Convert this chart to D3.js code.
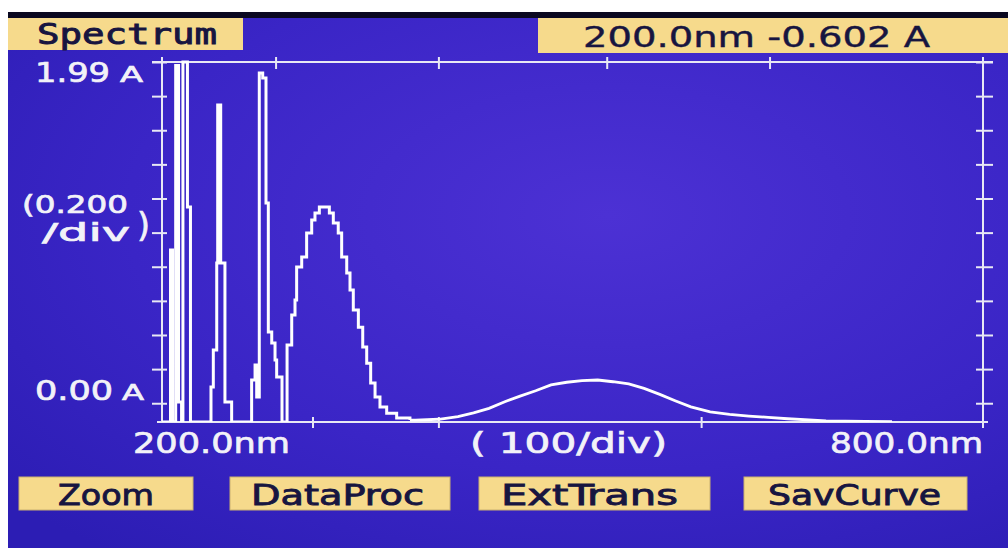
<!DOCTYPE html>
<html><head><meta charset="utf-8">
<script src="https://cdn.jsdelivr.net/npm/d3@7"></script>
<style>html,body{margin:0;padding:0;background:#fff;overflow:hidden}</style>
</head><body><svg id="c" width="1008" height="548"></svg>
<script>
// ---- data (nm, absorbance) ----
const peakWl  = [200.0, 206.2, 207.7, 210.0, 212.1, 214.3, 215.3, 218.6, 220.8,
                 235.8, 237.5, 240.0, 240.7, 242.9, 246.0, 250.9,
                 265.5, 268.0, 269.2, 271.1, 273.6, 276.0, 277.7, 280.2, 282.6, 283.8, 287.7,
                 291.4, 294.8, 297.2, 298.4, 302.1, 305.7, 309.4, 311.8, 315.0, 319.1,
                 322.3, 325.2, 328.8, 331.3, 335.0, 337.4, 339.8, 343.5, 346.7, 349.6,
                 352.5, 355.7, 359.3, 364.2, 371.5, 381.2];
const peakAbs = [-0.11, 0.898, -0.11, 1.98, 0.007, -0.11, 2.00, 1.150, -0.11,
                 0.095, 0.312, 0.822, 1.748, 0.822, 0.007, -0.11,
                 0.136, 0.224, 0.036, 1.935, 1.906, 1.173, 0.417, 0.353, 0.253, 0.154, -0.11,
                 0.341, 0.517, 0.605, 0.798, 0.857, 0.998, 1.074, 1.115, 1.150, 1.150,
                 1.115, 1.056, 0.998, 0.857, 0.763, 0.663, 0.546, 0.446, 0.329, 0.235,
                 0.118, 0.036, -0.022, -0.058, -0.087, -0.099];
const tailWl  = [381.2, 385.3, 402.3, 416.3, 427.7, 439.0, 450.5, 461.7, 473.1, 484.3,
                 495.8, 507.0, 518.4, 529.6, 541.1, 552.3, 563.8, 575.0, 586.5, 600.6,
                 614.8, 628.9, 643.0, 657.2, 685.3, 713.8, 733.5];
const tailAbs = [-0.099, -0.099, -0.094, -0.079, -0.056, -0.030, 0.009, 0.042, 0.073, 0.107,
                 0.123, 0.132, 0.136, 0.126, 0.113, 0.087, 0.052, 0.015, -0.021, -0.050,
                 -0.065, -0.075, -0.083, -0.091, -0.103, -0.106, -0.108];
const yTicks = [0, 0.2, 0.4, 0.6, 0.8, 1.0, 1.2, 1.4, 1.6, 1.8, 2.0];
const topTicks = [283, 402, 525, 644];
const bottomTicks = [310, 402, 594];
const titleText = "Spectrum";
const readoutText = "200.0nm -0.602 A";
const yLabelTop = "1.99", yLabelBottom = "0.00", yUnit = "A";
const yDiv = ["(0.200", "/div", ")"];
const xLabels = ["200.0nm", "( 100/div)", "800.0nm"];
const buttons = ["Zoom", "DataProc", "ExtTrans", "SavCurve"];

// ---- drawing ----
const svg = d3.select("#c");
const defs = svg.append("defs");
const grad = defs.append("radialGradient").attr("id", "scr")
  .attr("cx", "0.6").attr("cy", "0.38").attr("r", "0.8");
grad.append("stop").attr("offset", "0").attr("stop-color", "#4c31d4");
grad.append("stop").attr("offset", "0.6").attr("stop-color", "#3a25c6");
grad.append("stop").attr("offset", "1").attr("stop-color", "#2c1db4");

svg.append("rect").attr("width", 1008).attr("height", 548).attr("fill", "#ffffff");
svg.append("rect").attr("x", 8).attr("y", 12).attr("width", 1000).attr("height", 536).attr("fill", "url(#scr)");
svg.append("rect").attr("x", 8).attr("y", 12).attr("width", 1000).attr("height", 6).attr("fill", "#0a0820");

const x = d3.scaleLinear().domain([200, 800]).range([162, 983]);
const y = d3.scaleLinear().domain([-0.11, 2.0]).range([422, 62]);
const axisCol = "#e8e8f4";

defs.append("clipPath").attr("id", "plotclip").append("rect")
  .attr("x", x.range()[0]).attr("y", y.range()[1] - 2)
  .attr("width", x.range()[1] - x.range()[0]).attr("height", y.range()[0] - y.range()[1] + 2);

// axes
const gL = svg.append("g").attr("transform", `translate(${x.range()[0]},0)`)
  .call(d3.axisLeft(y).tickValues(yTicks).tickSize(10).tickSizeOuter(0).tickFormat(""));
gL.selectAll(".tick line").attr("x1", 5);
const gR = svg.append("g").attr("transform", `translate(${x.range()[1]},0)`)
  .call(d3.axisRight(y).tickValues(yTicks).tickSize(10).tickSizeOuter(0).tickFormat(""));
gR.selectAll(".tick line").attr("x1", -7);
const gT = svg.append("g").attr("transform", `translate(0,${y.range()[1]})`)
  .call(d3.axisTop(x).tickValues(topTicks).tickSize(5).tickSizeOuter(0).tickFormat(""));
gT.selectAll(".tick line").attr("y1", 7);
const gB = svg.append("g").attr("transform", `translate(0,${y.range()[0]})`)
  .call(d3.axisBottom(x).tickValues(bottomTicks).tickSize(6).tickSizeOuter(0).tickFormat(""));
gB.selectAll(".tick line").attr("y1", -5);
[gL, gR, gT, gB].forEach(g => {
  g.select(".domain").remove();
  g.selectAll(".tick line").attr("stroke", axisCol).attr("stroke-width", 2);
});
const frame = svg.append("g").attr("stroke", axisCol).attr("stroke-width", 2);
const [x0, x1] = x.range(), [yb, yt] = y.range();
frame.append("line").attr("x1", x0 - 10).attr("x2", x1 + 10).attr("y1", yt).attr("y2", yt);
frame.append("line").attr("x1", x0 - 5).attr("x2", x1 + 5).attr("y1", yb).attr("y2", yb);
frame.append("line").attr("x1", x0).attr("x2", x0).attr("y1", yt - 5).attr("y2", yb);
frame.append("line").attr("x1", x1).attr("x2", x1).attr("y1", yt - 5).attr("y2", yb + 6);

// spectrum
const plot = svg.append("g").attr("clip-path", "url(#plotclip)");
const peakData = peakWl.map((w, i) => [w, peakAbs[i]]);
const tailData = tailWl.map((w, i) => [w, tailAbs[i]]);
plot.append("path").datum(peakData)
  .attr("d", d3.line().x(d => x(d[0])).y(d => y(d[1])).curve(d3.curveStepAfter))
  .attr("fill", "none").attr("stroke", "#ffffff").attr("stroke-width", 3).attr("stroke-linejoin", "miter");
plot.append("path").datum(tailData)
  .attr("d", d3.line().x(d => x(d[0])).y(d => y(d[1])))
  .attr("fill", "none").attr("stroke", "#ffffff").attr("stroke-width", 2.8);

// text helper
function txt(s, tx, ty, len, size, fam, fill, sw) {
  const t = svg.append("text").attr("x", tx).attr("y", ty).text(s)
    .attr("font-family", fam).attr("font-size", size).attr("fill", fill)
    .attr("stroke", fill).attr("stroke-width", sw == null ? 0.7 : sw);
  if (len) t.attr("textLength", len).attr("lengthAdjust", "spacingAndGlyphs");
  return t;
}
const yellow = "#f6da8c", ink = "#171540", white = "#f2f2f8";
const sans = "DejaVu Sans", mono = "DejaVu Sans Mono", cond = "DejaVu Sans Condensed";

// header boxes
svg.append("rect").attr("x", 8).attr("y", 18).attr("width", 235).attr("height", 32).attr("fill", yellow);
txt(titleText, 37, 44, 180, 28, mono, ink, 0.9);
svg.append("rect").attr("x", 538).attr("y", 18).attr("width", 470).attr("height", 35).attr("fill", yellow);
txt(readoutText, 583, 47, 347, 28, sans, ink, 0.4);

// y labels
txt(yLabelTop, 35, y(1.99) + 18, 75, 27, sans, white);
txt(yUnit, 120, y(1.99) + 18, 23, 22, sans, white);
txt(yLabelBottom, 35, y(0) - 3, 78, 27, sans, white);
txt(yUnit, 122, y(0) - 3, 22, 22, sans, white);
txt(yDiv[0], 22, 213, 106, 25, sans, white);
txt(yDiv[1], 42, 241, 88, 25, sans, white);
txt(yDiv[2], 137, 237, 13, 34, sans, white);

// x labels
txt(xLabels[0], 133, 453, 157, 29, sans, white);
txt(xLabels[1], 470, 453, 197, 29, sans, white);
txt(xLabels[2], 830, 453, 153, 29, sans, white);

// buttons
const btnBox = [[19, 174], [230, 220], [479, 231], [744, 223]];
const btnTxt = [[58, 96], [251, 173], [501, 177], [768, 173]];
buttons.forEach((b, i) => {
  svg.append("rect").attr("x", btnBox[i][0]).attr("y", 477).attr("width", btnBox[i][1]).attr("height", 33)
    .attr("fill", yellow).attr("stroke", "#c9b070").attr("stroke-width", 1);
  txt(b, btnTxt[i][0], 505, btnTxt[i][1], 29, cond, ink, 0.8);
});
</script></body></html>
